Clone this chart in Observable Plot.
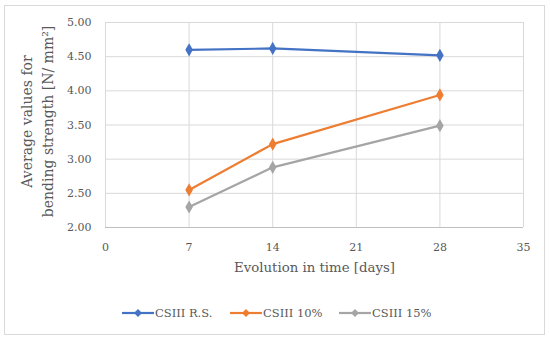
<!DOCTYPE html>
<html>
<head>
<meta charset="utf-8">
<script src="https://cdn.jsdelivr.net/npm/d3@7"></script>
<script src="https://cdn.jsdelivr.net/npm/@observablehq/plot@0.6"></script>
<style>
  body { margin: 0; background: #fff; }
  #wrap { position: relative; width: 550px; height: 340px; font-family: "DejaVu Serif", serif; color: #595959; }
  #frame { position: absolute; left: 4px; top: 5px; width: 539px; height: 328px; border: 1px solid #d9d9d9; }
  #chart { position: absolute; left: 0; top: 0; }
  .ytitle { position: absolute; left: 0; top: 0; width: 250px; text-align: center; font-size: 14px; line-height: 21px; white-space: nowrap;
            transform-origin: 0 0; }
  #legend { position: absolute; top: 303px; left: 0; width: 550px; height: 20px; font-size: 11.5px; }
  .item { position: absolute; top: 0; display: flex; align-items: center; height: 20px; white-space: nowrap; }
  .item svg { margin-right: 1px; }
</style>
</head>
<body>
<div id="wrap">
  <div id="frame"></div>
  <div id="chart"></div>
  <div class="ytitle" id="yt"></div>
  <div id="legend"></div>
</div>
<script>
const days = [7, 14, 28];
const seriesNames = ["CSIII R.S.", "CSIII 10%", "CSIII 15%"];
const seriesColors = ["#4472C4", "#ED7D31", "#A5A5A5"];
const valuesRS = [4.60, 4.62, 4.52];
const values10 = [2.55, 3.22, 3.94];
const values15 = [2.30, 2.88, 3.49];
const xTicks = [0, 7, 14, 21, 28, 35];
const yTicks = [2.0, 2.5, 3.0, 3.5, 4.0, 4.5, 5.0];
const xTitle = "Evolution in time [days]";
const yTitleLines = ["Average values for", "bending strength [N/ mm²]"];

const allSeries = [valuesRS, values10, values15];
const data = [];
allSeries.forEach((vals, si) => vals.forEach((v, i) => data.push({series: seriesNames[si], day: days[i], value: v})));

const plot = Plot.plot({
  width: 550,
  height: 292,
  marginLeft: 105,
  marginRight: 27,
  marginTop: 22,
  marginBottom: 65,
  style: {fontFamily: "DejaVu Serif, serif", fontSize: "11px", color: "#595959", background: "transparent"},
  x: {domain: [0, 35], ticks: xTicks, label: null},
  y: {domain: [2, 5], ticks: yTicks, label: null},
  color: {domain: seriesNames, range: seriesColors},
  marks: [
    Plot.gridX(xTicks, {stroke: "#d9d9d9", strokeOpacity: 1}),
    Plot.gridY(yTicks, {stroke: "#d9d9d9", strokeOpacity: 1}),
    Plot.ruleY([2], {stroke: "#bfbfbf"}),
    Plot.axisX(xTicks, {tickSize: 0, tickPadding: 16, tickFormat: d => String(d), fontSize: 11}),
    Plot.axisY(yTicks, {tickSize: 0, tickPadding: 14, tickFormat: d3.format(".2f"), fontSize: 11}),
    Plot.text([xTitle], {frameAnchor: "bottom", dy: 44, fontSize: 13.3, fill: "#595959"}),
    Plot.line(data, {x: "day", y: "value", z: "series", stroke: "series", strokeWidth: 2.2}),
    Plot.dot(data, {x: "day", y: "value", fill: "series", symbol: "diamond", r: 4})
  ]
});
document.getElementById("chart").appendChild(plot);

// y title (rotated)
const yt = document.getElementById("yt");
yt.innerHTML = yTitleLines.map(s => `<div>${s}</div>`).join("");
yt.style.transform = "translate(16.5px, 246.5px) rotate(-90deg)";

// legend
const legend = document.getElementById("legend");
const lx = [122, 230, 339];
seriesNames.forEach((name, i) => {
  const item = document.createElement("div");
  item.className = "item";
  item.style.left = lx[i] + "px";
  const c = seriesColors[i];
  item.innerHTML = `<svg width="32" height="12"><line x1="0" y1="6" x2="32" y2="6" stroke="${c}" stroke-width="2.2"/><path d="M16,2 L20,6 L16,10 L12,6 Z" fill="${c}"/></svg><span>${name}</span>`;
  legend.appendChild(item);
});
</script>
</body>
</html>
